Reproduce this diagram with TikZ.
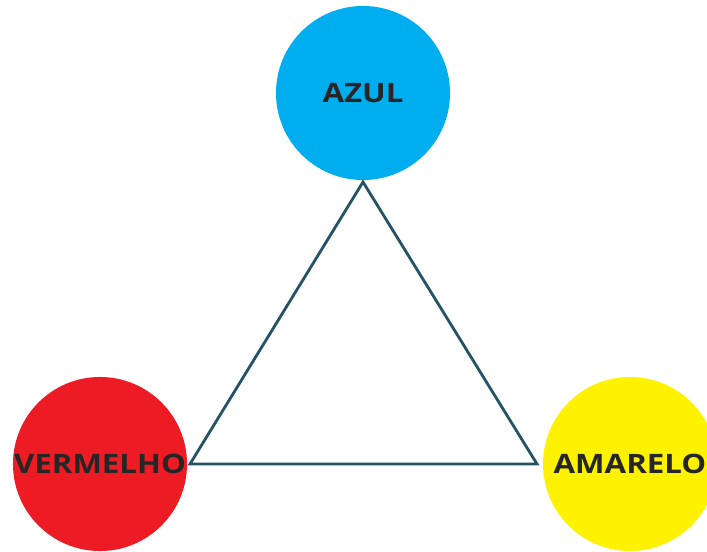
\documentclass[tikz,border=0pt]{standalone}
\usepackage{fontspec}
\newfontfamily\corfont[FakeStretch=1.17]{Open Sans}
\usepackage{tikz}
\usetikzlibrary{calc}
\definecolor{azul}{RGB}{0,174,239}
\definecolor{vermelho}{RGB}{237,28,36}
\definecolor{amarelo}{RGB}{255,242,0}
\definecolor{linha}{RGB}{38,82,102}
\tikzset{cor/.style={circle, minimum size=4.35cm, inner sep=0pt, text=black!85, font=\corfont\bfseries\fontsize{19}{19}\selectfont}}

\begin{document}
\begin{tikzpicture}[x=0.025cm, y=-0.025cm]
\useasboundingbox (0,0) rectangle (707,551);
\clip (0,0) rectangle (707,551);

\node[cor, fill=azul] (azul) at (363,93) {AZUL};
\node[cor, fill=vermelho] (vermelho) at (100,464) {VERMELHO};
\node[cor, fill=amarelo] (amarelo) at (630,464) {AMARELO};

\coordinate (topo) at (363,182);
\coordinate (esq) at (190,464);
\coordinate (dir) at (537,464);

\draw[color=linha, line width=2pt, line join=miter] (topo) -- (esq) -- (dir) -- cycle;

\end{tikzpicture}
\end{document}
